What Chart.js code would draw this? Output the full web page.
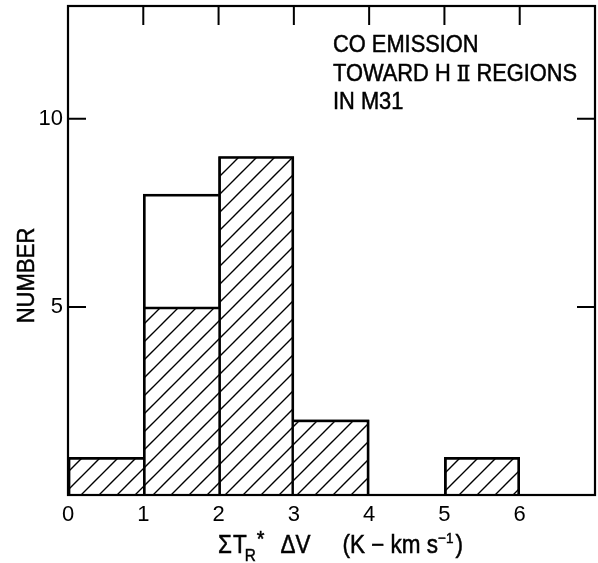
<!DOCTYPE html>
<html>
<head>
<meta charset="utf-8">
<script src="https://cdn.jsdelivr.net/npm/chart.js@4"></script>
<style>
  html, body { margin: 0; padding: 0; background: #fff; }
  canvas { display: block; }
</style>
</head>
<body>
<canvas id="histo" width="598" height="563"></canvas>
<script>
// Histogram bins of ΣT_R* ΔV (K km/s), one unit wide from 0 to 7
const bins = ['0-1', '1-2', '2-3', '3-4', '4-5', '5-6', '6-7'];
// All H II regions observed in each bin (open outline)
const totalCounts = [1, 8, 9, 2, 0, 1, 0];
// Regions in each bin drawn hatched
const hatchedCounts = [1, 5, 9, 2, 0, 1, 0];
// Axis ranges and labelled ticks
const xRange = [0, 7];
const yRange = [0, 13];
const xTickValues = [0, 1, 2, 3, 4, 5, 6];
const yTickValues = [5, 10];
// Axis titles and the caption in the upper right of the frame
const yTitle = 'NUMBER';
const noteLines = ['CO EMISSION', 'TOWARD H \u2161 REGIONS', 'IN M31'];

const FONT = "'Liberation Sans', 'DejaVu Sans', Arial, sans-serif";
const SERIF = "'DejaVu Serif', 'Liberation Serif', serif";
const INK = '#000';
const EDGE = 2.7;

// Taller of the two bars in each bin decides who owns a shared vertical edge
const binHeights = totalCounts.map((t, i) => Math.max(t, hatchedCounts[i]));

function edgeWidths(ctx) {
  const i = ctx.dataIndex;
  const v = ctx.raw;
  if (!v) return 0;
  const h = binHeights;
  return {
    top: EDGE,
    bottom: 0,
    left: (i === 0 || h[i - 1] <= h[i]) ? EDGE : 0,
    right: (i === h.length - 1 || h[i + 1] < h[i]) ? EDGE : 0
  };
}

// Diagonal "/" hatching
function makeHatch() {
  const s = 18;
  const c = document.createElement('canvas');
  c.width = s; c.height = s;
  const g = c.getContext('2d');
  g.fillStyle = '#fff';
  g.fillRect(0, 0, s, s);
  g.strokeStyle = INK;
  g.lineWidth = 1.4;
  g.beginPath();
  g.moveTo(-2, s + 2); g.lineTo(s + 2, -2);
  g.moveTo(-2, 2); g.lineTo(2, -2);
  g.moveTo(s - 2, s + 2); g.lineTo(s + 2, s - 2);
  g.stroke();
  return g.createPattern(c, 'repeat');
}

// Filled text with a thin outline so the lettering reads a little heavier
function inkText(ctx, text, x, y) {
  ctx.fillText(text, x, y);
  ctx.strokeText(text, x, y);
}

const whiteBackground = {
  id: 'whiteBackground',
  beforeDraw(chart) {
    const ctx = chart.ctx;
    ctx.save();
    ctx.fillStyle = '#fff';
    ctx.fillRect(0, 0, chart.width, chart.height);
    ctx.restore();
  }
};

// Frame around the plot with inward ticks on top, left and right
const frameAndTicks = {
  id: 'frameAndTicks',
  afterDatasetsDraw(chart) {
    const ctx = chart.ctx;
    const ca = chart.chartArea;
    const xs = chart.scales.xv;
    const ys = chart.scales.y;
    ctx.save();
    ctx.strokeStyle = INK;
    ctx.lineWidth = 2.2;
    ctx.strokeRect(ca.left, ca.top, ca.right - ca.left, ca.bottom - ca.top);
    ctx.lineWidth = 2;
    ctx.beginPath();
    xTickValues.forEach(v => {
      if (v <= xRange[0] || v >= xRange[1]) return;
      const x = xs.getPixelForValue(v);
      ctx.moveTo(x, ca.top);
      ctx.lineTo(x, ca.top + 19);
    });
    yTickValues.forEach(v => {
      const y = ys.getPixelForValue(v);
      ctx.moveTo(ca.left, y);
      ctx.lineTo(ca.left + 18, y);
      ctx.moveTo(ca.right, y);
      ctx.lineTo(ca.right - 18, y);
    });
    ctx.stroke();
    ctx.restore();
  }
};

// Caption block (Roman numeral set in a serif face) and rotated y-axis title
const caption = {
  id: 'caption',
  afterDraw(chart) {
    const ctx = chart.ctx;
    const ca = chart.chartArea;
    const sx = 0.91;
    ctx.save();
    ctx.fillStyle = INK;
    ctx.strokeStyle = INK;
    ctx.lineWidth = 0.5;
    ctx.textBaseline = 'alphabetic';
    const x0 = ca.left + 265;
    const y0 = ca.top + 46;
    noteLines.forEach((line, k) => {
      ctx.save();
      ctx.translate(x0, y0 + k * 28.5);
      ctx.scale(sx, 1);
      let x = 0;
      line.split(/(\u2161)/).forEach(seg => {
        if (!seg) return;
        const roman = seg === '\u2161';
        ctx.font = roman ? '22px ' + SERIF : '24px ' + FONT;
        inkText(ctx, seg, x, 0);
        x += ctx.measureText(seg).width;
      });
      ctx.restore();
    });
    ctx.restore();

    ctx.save();
    ctx.fillStyle = INK;
    ctx.strokeStyle = INK;
    ctx.lineWidth = 0.5;
    ctx.font = '24px ' + FONT;
    ctx.textAlign = 'center';
    ctx.textBaseline = 'middle';
    ctx.translate(ca.left - 41, (ca.top + ca.bottom) / 2 + 25);
    ctx.rotate(-Math.PI / 2);
    ctx.scale(0.92, 1);
    inkText(ctx, yTitle, 0, 0);
    ctx.restore();
  }
};

// x-axis title with subscript and superscripts
const xTitle = {
  id: 'xTitle',
  afterDraw(chart) {
    const ctx = chart.ctx;
    const ca = chart.chartArea;
    const parts = [
      { t: '\u03A3', size: 25, dy: 0, gap: 0 },
      { t: 'T', size: 25, dy: 0, gap: 1 },
      { t: 'R', size: 17, dy: 8, gap: -2 },
      { t: '*', size: 22, dy: -7, gap: 1 },
      { t: '\u0394V', size: 25, dy: 0, gap: 16 },
      { t: '(K \u2212 km s', size: 25, dy: 0, gap: 32 },
      { t: '\u22121', size: 15, dy: -10, gap: 0 },
      { t: ')', size: 25, dy: 0, gap: 2 }
    ];
    const sx = 0.9;
    ctx.save();
    let total = 0;
    parts.forEach(p => {
      ctx.font = p.size + 'px ' + FONT;
      p.w = ctx.measureText(p.t).width * sx;
      total += p.gap + p.w;
    });
    const cx = (ca.left + ca.right) / 2 + 9;
    let x = cx - total / 2;
    const base = ca.bottom + 58;
    ctx.fillStyle = INK;
    ctx.strokeStyle = INK;
    ctx.lineWidth = 0.5;
    ctx.textBaseline = 'alphabetic';
    parts.forEach(p => {
      x += p.gap;
      ctx.font = p.size + 'px ' + FONT;
      ctx.save();
      ctx.translate(x, base + p.dy);
      ctx.scale(sx, 1);
      inkText(ctx, p.t, 0, 0);
      ctx.restore();
      x += p.w;
    });
    ctx.restore();
  }
};

const hatch = makeHatch();

new Chart(document.getElementById('histo'), {
  type: 'bar',
  data: {
    labels: bins,
    datasets: [
      {
        label: 'hatched',
        data: hatchedCounts,
        backgroundColor: hatch,
        borderColor: INK,
        borderWidth: edgeWidths,
        borderSkipped: false
      },
      {
        label: 'total',
        data: totalCounts,
        backgroundColor: '#fff',
        borderColor: INK,
        borderWidth: edgeWidths,
        borderSkipped: false
      }
    ]
  },
  options: {
    responsive: false,
    animation: false,
    events: [],
    layout: { padding: { top: 6, right: 3, left: 0, bottom: 0 } },
    datasets: {
      bar: { grouped: false, barPercentage: 1, categoryPercentage: 1 }
    },
    plugins: {
      legend: { display: false },
      tooltip: { enabled: false },
      title: { display: false }
    },
    scales: {
      x: { type: 'category', display: false, offset: true },
      xv: {
        type: 'linear',
        position: 'bottom',
        offset: false,
        min: xRange[0],
        max: xRange[1],
        afterBuildTicks: s => { s.ticks = xTickValues.map(v => ({ value: v })); },
        afterFit: s => { s.height = 68; s.paddingLeft = 0; s.paddingRight = 0; },
        grid: { display: false, drawTicks: false, offset: false },
        border: { display: false },
        ticks: {
          font: { family: FONT, size: 22 },
          color: INK,
          padding: 7,
          maxRotation: 0,
          autoSkip: false
        }
      },
      y: {
        type: 'linear',
        min: yRange[0],
        max: yRange[1],
        afterBuildTicks: s => { s.ticks = yTickValues.map(v => ({ value: v })); },
        afterFit: s => { s.width = 68; s.paddingTop = 0; s.paddingBottom = 0; },
        grid: { display: false, drawTicks: false },
        border: { display: false },
        ticks: {
          font: { family: FONT, size: 22 },
          color: INK,
          padding: 5
        }
      }
    }
  },
  plugins: [whiteBackground, frameAndTicks, caption, xTitle]
});
</script>
</body>
</html>
